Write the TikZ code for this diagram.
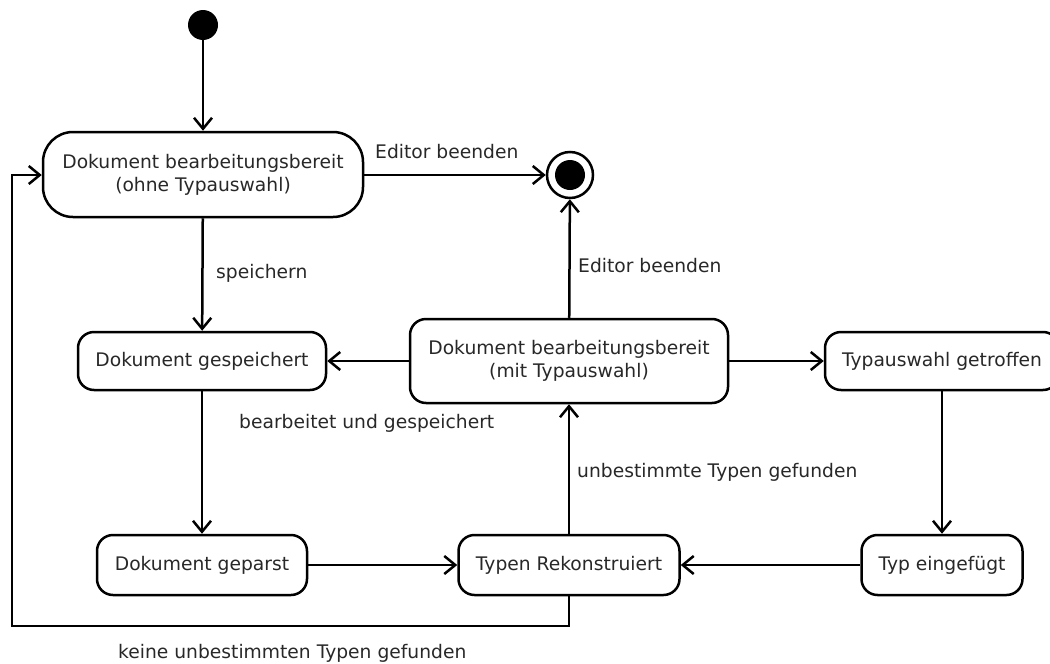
\documentclass[tikz,border=0pt]{standalone}
\usepackage{fontspec}
\setmainfont{DejaVu Sans}
\usetikzlibrary{arrows.meta}
\definecolor{txt}{RGB}{40,40,40}
\begin{document}
\begin{tikzpicture}[x=1pt,y=-1pt,
  font=\fontsize{18.7}{23}\selectfont,
  every node/.style={text=txt},
  state/.style={draw=black, line width=2.5pt, fill=white, rounded corners=16pt,
    align=center, inner sep=0pt},
  trans/.style={line width=2.5pt, -{Straight Barb[length=11pt,width=18pt,line width=2.5pt]}},
  lbl/.style={inner sep=0pt, anchor=base west}]
\useasboundingbox (0,0) rectangle (1050,664);

% states
\node[circle, fill=black, minimum size=30pt, inner sep=0pt] (init) at (203,25) {};
\node[state, rounded corners=30pt, minimum width=320pt, minimum height=85pt] (ohne) at (203,174.5)
  {Dokument bearbeitungsbereit\\(ohne Typauswahl)};
\node[circle, draw=black, line width=2.5pt, minimum size=46pt, inner sep=0pt] (final) at (570,175) {};
\node[circle, fill=black, minimum size=30pt, inner sep=0pt] at (final) {};
\node[state, minimum width=248pt, minimum height=58pt] (gesp) at (202,361) {Dokument gespeichert};
\node[state, minimum width=318pt, minimum height=84pt] (mit) at (569,361)
  {Dokument bearbeitungsbereit\\(mit Typauswahl)};
\node[state, minimum width=234pt, minimum height=58pt] (wahl) at (942,361) {Typauswahl getroffen};
\node[state, minimum width=210pt, minimum height=60pt] (geparst) at (202,565) {Dokument geparst};
\node[state, minimum width=221pt, minimum height=60pt] (rekon) at (569,565) {Typen Rekonstruiert};
\node[state, minimum width=161pt, minimum height=60pt] (einge) at (942,565) {Typ eingefügt};

% transitions
\draw[trans] (init) -- (ohne);
\draw[trans] (ohne.east |- final) -- (final);
\draw[trans] (ohne) -- (gesp);
\draw[trans] (mit) -- (final);
\draw[trans] (mit) -- (gesp);
\draw[trans] (mit) -- (wahl);
\draw[trans] (gesp) -- (geparst);
\draw[trans] (geparst) -- (rekon);
\draw[trans] (wahl) -- (einge);
\draw[trans] (einge) -- (rekon);
\draw[trans] (rekon) -- (mit);
\coordinate (lb) at (12,626);
\coordinate (lt) at (12,175);
\draw[trans] (rekon.south) |- (lb) -- (lt) -- (lt -| ohne.west);

% transition labels
\node[lbl] at (375,158) {Editor beenden};
\node[lbl] at (216,278) {speichern};
\node[lbl] at (578,272) {Editor beenden};
\node[lbl] at (239,428) {bearbeitet und gespeichert};
\node[lbl] at (577,477) {unbestimmte Typen gefunden};
\node[lbl] at (118,658) {keine unbestimmten Typen gefunden};
\end{tikzpicture}
\end{document}
